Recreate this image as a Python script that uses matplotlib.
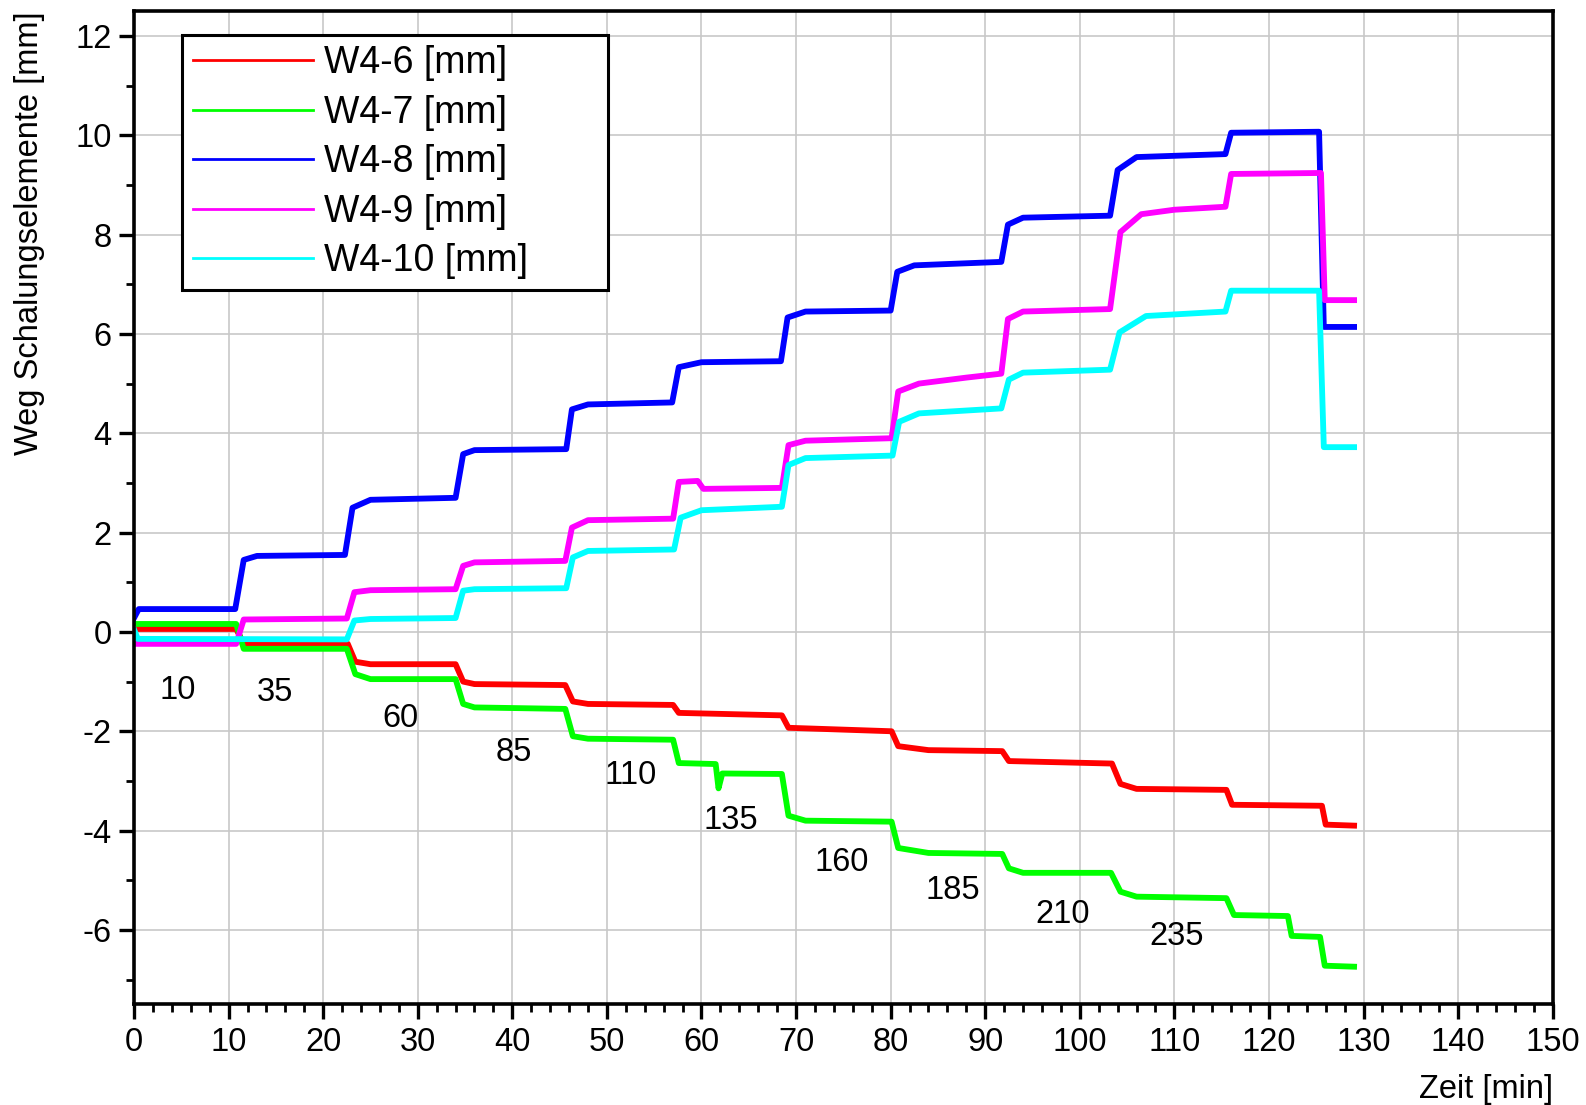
import matplotlib
matplotlib.use("Agg")
import matplotlib.pyplot as plt
from matplotlib.ticker import MultipleLocator

plt.rcParams['font.family'] = ['Liberation Sans', 'DejaVu Sans']
plt.rcParams['axes.unicode_minus'] = False

# Breakpoints (time in min, displacement in mm) of each measuring channel
t_w46 = [0, 10.8, 11.6, 22.6, 23.4, 25.0, 34.0, 34.8, 36.0, 45.6, 46.4, 48.0, 57.0, 57.6, 68.5, 69.2, 80.1, 80.8, 84.0, 91.8, 92.5, 103.4, 104.3, 106.0, 115.5, 116.1, 125.6, 126.0, 129.0]
v_w46 = [0.06, 0.06, -0.24, -0.24, -0.60, -0.65, -0.65, -1.00, -1.05, -1.07, -1.40, -1.45, -1.47, -1.63, -1.68, -1.93, -2.00, -2.30, -2.38, -2.40, -2.60, -2.65, -3.06, -3.16, -3.18, -3.48, -3.50, -3.88, -3.90]

t_w47 = [0, 10.8, 11.6, 22.5, 23.4, 25.0, 34.0, 34.8, 36.0, 45.6, 46.4, 48.0, 57.0, 57.6, 61.5, 61.8, 62.2, 68.5, 69.2, 71.0, 80.1, 80.8, 84.0, 91.8, 92.5, 94.0, 103.3, 104.3, 106.0, 115.5, 116.3, 122.0, 122.4, 125.4, 125.9, 129.0]
v_w47 = [0.16, 0.16, -0.34, -0.34, -0.85, -0.95, -0.95, -1.45, -1.52, -1.55, -2.10, -2.15, -2.17, -2.64, -2.66, -3.15, -2.85, -2.86, -3.70, -3.80, -3.82, -4.35, -4.45, -4.47, -4.76, -4.85, -4.85, -5.23, -5.33, -5.36, -5.70, -5.72, -6.12, -6.14, -6.72, -6.74]

t_w48 = [0, 0.5, 10.7, 11.6, 13.0, 22.3, 23.1, 25.0, 34.0, 34.8, 36.0, 45.7, 46.3, 48.0, 56.9, 57.6, 60.0, 68.4, 69.1, 71.0, 80.0, 80.7, 82.5, 91.7, 92.4, 94.0, 103.2, 104.0, 106.0, 115.4, 116.0, 125.3, 125.8, 129.0]
v_w48 = [0.28, 0.46, 0.46, 1.45, 1.53, 1.55, 2.50, 2.66, 2.70, 3.58, 3.66, 3.68, 4.48, 4.58, 4.62, 5.33, 5.43, 5.45, 6.33, 6.45, 6.47, 7.25, 7.38, 7.45, 8.20, 8.34, 8.38, 9.30, 9.56, 9.62, 10.05, 10.07, 6.14, 6.14]

t_w49 = [0, 10.8, 11.6, 22.5, 23.3, 25.0, 34.0, 34.8, 36.0, 45.6, 46.3, 48.0, 57.0, 57.6, 59.6, 60.2, 68.5, 69.2, 71.0, 80.1, 80.8, 83.0, 88.0, 91.7, 92.4, 94.0, 103.2, 104.3, 106.5, 110.0, 115.4, 116.0, 125.5, 125.9, 129.0]
v_w49 = [-0.24, -0.24, 0.25, 0.27, 0.80, 0.84, 0.86, 1.33, 1.40, 1.43, 2.10, 2.25, 2.28, 3.02, 3.04, 2.88, 2.90, 3.76, 3.85, 3.90, 4.84, 5.00, 5.12, 5.20, 6.30, 6.45, 6.50, 8.05, 8.41, 8.50, 8.56, 9.22, 9.24, 6.68, 6.68]

t_w410 = [0, 0.4, 22.5, 23.3, 25.0, 34.0, 34.8, 36.0, 45.7, 46.4, 48.0, 57.1, 57.8, 60.0, 68.5, 69.2, 71.0, 80.2, 80.9, 83.0, 91.7, 92.5, 94.0, 103.2, 104.2, 107.0, 115.4, 116.0, 125.3, 125.8, 129.0]
v_w410 = [0.05, -0.14, -0.15, 0.23, 0.26, 0.28, 0.83, 0.86, 0.88, 1.50, 1.63, 1.66, 2.30, 2.45, 2.52, 3.36, 3.50, 3.55, 4.23, 4.40, 4.50, 5.08, 5.22, 5.28, 6.03, 6.36, 6.45, 6.87, 6.87, 3.72, 3.72]

# load step annotations (label, x position, y position)
step_labels = ['10', '35', '60', '85', '110', '135', '160', '185', '210', '235']
step_x = [4.6, 14.9, 28.2, 40.2, 52.5, 63.1, 74.8, 86.6, 98.2, 110.2]
step_y = [-1.18, -1.22, -1.75, -2.42, -2.89, -3.80, -4.64, -5.21, -5.69, -6.14]

fs = 23.5

fig = plt.figure(figsize=(15.86, 11.05), dpi=100)
ax = fig.add_axes([0.0845, 0.091, 0.8945, 0.899])

lw = 4.2
ax.plot(t_w46, v_w46, color='#FF0000', lw=lw, label='W4-6 [mm]')
ax.plot(t_w47, v_w47, color='#00FF00', lw=lw, label='W4-7 [mm]')
ax.plot(t_w48, v_w48, color='#0000FF', lw=lw, label='W4-8 [mm]')
ax.plot(t_w49, v_w49, color='#FF00FF', lw=lw, label='W4-9 [mm]')
ax.plot(t_w410, v_w410, color='#00FFFF', lw=lw, label='W4-10 [mm]')

for lab, x, y in zip(step_labels, step_x, step_y):
    ax.text(x, y, lab, fontsize=fs, ha='center', va='center')

ax.set_xlim(0, 150)
ax.set_ylim(-7.5, 12.5)
ax.xaxis.set_major_locator(MultipleLocator(10))
ax.xaxis.set_minor_locator(MultipleLocator(2))
ax.yaxis.set_major_locator(MultipleLocator(2))
ax.yaxis.set_minor_locator(MultipleLocator(1))
ax.grid(True, which='major', color='#C8C8C8', lw=1.2)
ax.set_axisbelow(True)

for sp in ax.spines.values():
    sp.set_linewidth(2.6)
ax.tick_params(which='major', direction='out', length=11, width=2.4, labelsize=fs, pad=5)
ax.tick_params(which='minor', direction='out', length=5.5, width=2.0)

ax.set_xlabel('Zeit [min]', fontsize=fs, loc='right', labelpad=12)
ax.set_ylabel('Weg Schalungselemente [mm]', fontsize=fs, loc='top', labelpad=22)

# wide legend box, entries packed to the left
leg = ax.legend(loc='upper left', bbox_to_anchor=(0.034, 0.726, 0.300, 0.25),
                mode='expand', fontsize=27,
                handlelength=3.2, handletextpad=0.3, borderpad=0.28,
                labelspacing=0.36, borderaxespad=0, fancybox=False, framealpha=1)
leg.get_frame().set_edgecolor('black')
leg.get_frame().set_linewidth(2.2)
for h in leg.get_lines():
    h.set_linewidth(2)

fig.savefig('out.png', dpi=100)
